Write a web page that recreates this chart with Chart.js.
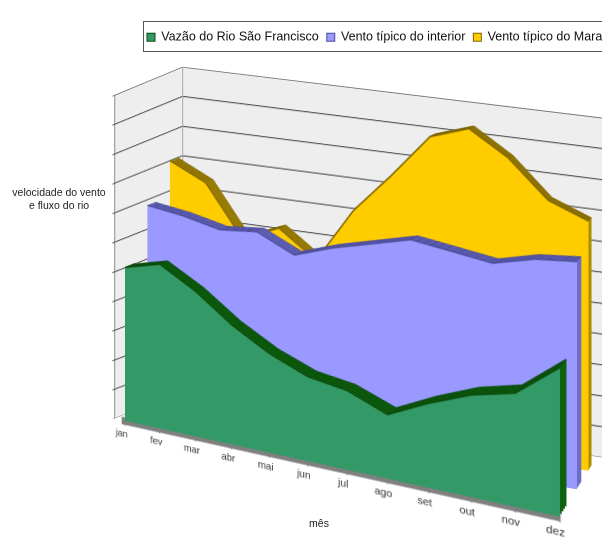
<!DOCTYPE html>
<html>
<head>
<meta charset="utf-8">
<script src="https://cdn.jsdelivr.net/npm/chart.js@4/dist/chart.umd.min.js"></script>
<style>
  html, body { margin: 0; padding: 0; background: #fff; width: 602px; height: 541px; overflow: hidden; }
  #stage { position: absolute; left: 0; top: 0; width: 602px; height: 541px; overflow: hidden; }
  #stage canvas { position: absolute; left: 0; top: 0; transform-origin: 0 0; }
  .txt { position: absolute; font-family: "Liberation Sans", Arial, sans-serif; color: #222; white-space: nowrap; }
  #legendFrame { position: absolute; left: 143px; top: 21px; width: 480px; height: 29px; border: 1px solid #555; background: #fff; }
</style>
</head>
<body>
<div id="stage"></div>
<div class="txt" style="left:4px; top:186px; width:110px; text-align:center; font-size:10.5px; line-height:13px;">velocidade do vento<br>e fluxo do rio</div>
<div class="txt" style="left:299px; top:517px; width:40px; text-align:center; font-size:10.5px;">mês</div>
<script>
// ---- data -------------------------------------------------------------
const months = ['jan', 'fev', 'mar', 'abr', 'mai', 'jun', 'jul', 'ago', 'set', 'out', 'nov', 'dez'];
const seriesNames = ['Vazão do Rio São Francisco', 'Vento típico do interior', 'Vento típico do Maranhão'];
const vazaoRio      = [5.2, 5.5, 4.8, 3.9, 3.2, 2.7, 2.5, 2.0, 2.6, 3.1, 3.4, 4.4];
const ventoInterior = [7.0, 6.8, 6.5, 6.6, 6.0, 6.4, 6.7, 7.0, 6.8, 6.6, 6.9, 7.0];
const ventoMaranhao = [8.2, 7.6, 5.9, 6.4, 5.5, 7.3, 8.6, 10.0, 10.4, 9.6, 8.4, 7.9];
const valueMax = 11;   // top of the value axis, one gridline per unit

// ---- look -------------------------------------------------------------
const FONT = '"Liberation Sans", Arial, sans-serif';
const faceColors   = ['#339966', '#9999ff', '#ffcc00'];
const topColors    = ['#0d610d', '#6d6dc8', '#ad8c05'];
const edgeColors   = ['#0a4a0a', '#4c4c9a', '#7d6500'];
const WALL_FILL = '#eeeeee';
const GRID = '#555555';

// ---- oblique box: page position of the plot box corners --------------
const LAST = months.length - 1;
const FRONT = { bl: [125, 421], tl: [125, 96],  br: [560, 517], tr: [560, 143] };
const BACK  = { bl: [193, 395], tl: [193, 68],  br: [597, 457], tr: [597, 117] };
const DEPTH_WEIGHT = { left: 1.0, right: 1.73 };   // perspective foreshortening of depth
const WALL_X0 = -0.3, WALL_X1 = 11.3;              // walls reach a bit past the first/last month
const SERIES_Z = [0, 0.33, 0.66];                  // depth row of each series
const SLAB = 0.11;                                 // thickness of each area slab

function solveH(src, dst) {
  const A = [], b = [];
  for (let i = 0; i < 4; i++) {
    const [x, y] = src[i], [u, v] = dst[i];
    A.push([x, y, 1, 0, 0, 0, -x * u, -y * u]); b.push(u);
    A.push([0, 0, 0, x, y, 1, -x * v, -y * v]); b.push(v);
  }
  const n = 8;
  for (let c = 0; c < n; c++) {
    let p = c;
    for (let r = c + 1; r < n; r++) if (Math.abs(A[r][c]) > Math.abs(A[p][c])) p = r;
    [A[c], A[p]] = [A[p], A[c]]; [b[c], b[p]] = [b[p], b[c]];
    for (let r = 0; r < n; r++) {
      if (r === c) continue;
      const f = A[r][c] / A[c][c];
      for (let k = c; k < n; k++) A[r][k] -= f * A[c][k];
      b[r] -= f * b[c];
    }
  }
  return b.map((v, i) => v / A[i][i]);
}
function applyH(h, x, y) {
  const w = h[6] * x + h[7] * y + 1;
  return [(h[0] * x + h[1] * y + h[2]) / w, (h[3] * x + h[4] * y + h[5]) / w];
}
function mix(a, b, s) { return [a[0] + (b[0] - a[0]) * s, a[1] + (b[1] - a[1]) * s]; }
function depthFrac(z, r) { return z * r / ((1 - z) + z * r); }

const planeCache = {};
function planeH(z) {
  if (planeCache[z]) return planeCache[z];
  const sl = depthFrac(z, DEPTH_WEIGHT.left), sr = depthFrac(z, DEPTH_WEIGHT.right);
  const src = [[0, 0], [0, valueMax], [LAST, 0], [LAST, valueMax]];
  const dst = [mix(FRONT.bl, BACK.bl, sl), mix(FRONT.tl, BACK.tl, sl),
               mix(FRONT.br, BACK.br, sr), mix(FRONT.tr, BACK.tr, sr)];
  return (planeCache[z] = solveH(src, dst));
}
function project(X, Y, z) { return applyH(planeH(z), X, Y); }

// map a chart's plot area onto the page through its own scales
function place(chart, toPage) {
  const a = chart.chartArea, xs = chart.scales.x, ys = chart.scales.y;
  const src = [[a.left, a.bottom], [a.left, a.top], [a.right, a.bottom], [a.right, a.top]];
  const dst = [toPage(xs.min, ys.min), toPage(xs.min, ys.max), toPage(xs.max, ys.min), toPage(xs.max, ys.max)];
  const h = solveH(src, dst);
  chart.canvas.style.transform =
    `matrix3d(${h[0]},${h[3]},0,${h[6]},${h[1]},${h[4]},0,${h[7]},0,0,1,0,${h[2]},${h[5]},0,1)`;
}

const stage = document.getElementById('stage');
function makeCanvas(w, h) {
  const c = document.createElement('canvas');
  c.width = w; c.height = h;
  c.style.width = w + 'px'; c.style.height = h + 'px';
  stage.appendChild(c);
  return c;
}

const wallFill = {
  id: 'wallFill',
  beforeDraw(chart, args, opts) {
    if (!opts.color) return;
    const { ctx, chartArea: a } = chart;
    ctx.save();
    ctx.fillStyle = opts.color;
    ctx.fillRect(a.left, a.top, a.right - a.left, a.bottom - a.top);
    ctx.restore();
  }
};

const baseOptions = {
  responsive: false,
  animation: false,
  devicePixelRatio: 2,
  events: [],
  layout: { padding: 0 },
  plugins: { legend: { display: false }, tooltip: { enabled: false } }
};

// ---- back wall --------------------------------------------------------
const backWall = new Chart(makeCanvas(520, 360), {
  type: 'line',
  data: { datasets: [] },
  plugins: [wallFill],
  options: {
    ...baseOptions,
    plugins: { ...baseOptions.plugins, wallFill: { color: WALL_FILL } },
    scales: {
      x: { type: 'linear', min: WALL_X0, max: WALL_X1, display: false },
      y: {
        type: 'linear', min: 0, max: valueMax,
        ticks: { display: false, stepSize: 1 },
        grid: { color: GRID, lineWidth: 1.2, drawTicks: false },
        border: { display: true, color: GRID, width: 1.2 }
      }
    }
  }
});
place(backWall, (X, Y) => project(X, Y, 1));

// ---- side wall (left) -------------------------------------------------
const sideWall = new Chart(makeCanvas(120, 360), {
  type: 'line',
  data: { datasets: [] },
  plugins: [wallFill],
  options: {
    ...baseOptions,
    plugins: { ...baseOptions.plugins, wallFill: { color: WALL_FILL } },
    scales: {
      x: {
        type: 'linear', min: 0, max: 1,
        ticks: { display: false, stepSize: 1 },
        grid: { color: GRID, lineWidth: 1.2, drawTicks: false },
        border: { display: false }
      },
      y: {
        type: 'linear', min: 0, max: valueMax,
        ticks: { display: false, stepSize: 1 },
        grid: { color: GRID, lineWidth: 1.2, drawTicks: true, tickLength: 4 },
        border: { display: true, color: GRID, width: 1.2 }
      }
    }
  }
});
place(sideWall, (d, Y) => project(WALL_X0, Y, d));

// ---- area slabs -------------------------------------------------------
function areaLayer(values, fill, edge, edgeWidth, z, withAxis) {
  const chart = new Chart(makeCanvas(470, withAxis ? 380 : 350), {
    type: 'line',
    data: {
      labels: months,
      datasets: [{
        data: values, fill: 'origin', backgroundColor: fill,
        borderColor: edge, borderWidth: edgeWidth, pointRadius: 0, tension: 0
      }]
    },
    options: {
      ...baseOptions,
      layout: { padding: { left: 12, right: 12, top: 8, bottom: withAxis ? 4 : 8 } },
      scales: {
        x: {
          type: 'category', offset: false, display: withAxis,
          grid: { display: true, drawOnChartArea: false, drawTicks: true, tickLength: 5, color: '#777' },
          border: { display: true, color: '#808080', width: 8 },
          ticks: { font: { family: FONT, size: 10.5 }, color: '#333', padding: 3,
                   maxRotation: 0, autoSkip: false, labelOffset: -4 }
        },
        y: { type: 'linear', min: 0, max: valueMax, display: false }
      }
    }
  });
  place(chart, (X, Y) => project(X, Y, z));
  return chart;
}

const allSeries = [vazaoRio, ventoInterior, ventoMaranhao];
// paint from the back row to the front row
for (let s = allSeries.length - 1; s >= 0; s--) {
  const z0 = SERIES_Z[s];
  for (let k = 4; k >= 1; k--) {
    areaLayer(allSeries[s], topColors[s], edgeColors[s], 1, z0 + SLAB * k / 4, false);
  }
  areaLayer(allSeries[s], faceColors[s], edgeColors[s], 1.5, z0, s === 0);
}
</script>

<div id="legendFrame"></div>
<canvas id="legend" width="560" height="40" style="position:absolute; left:139px; top:23px; width:560px; height:40px;"></canvas>
<script>
// ---- legend -----------------------------------------------------------
new Chart(document.getElementById('legend'), {
  type: 'line',
  data: {
    labels: months,
    datasets: [vazaoRio, ventoInterior, ventoMaranhao].map((vals, i) => ({
      label: seriesNames[i], data: vals, showLine: false, pointRadius: 0,
      backgroundColor: faceColors[i], borderColor: edgeColors[i], borderWidth: 1
    }))
  },
  options: {
    responsive: false, animation: false, devicePixelRatio: 2, events: [],
    layout: { padding: 0 },
    scales: { x: { display: false }, y: { display: false } },
    plugins: {
      tooltip: { enabled: false },
      legend: {
        display: true, position: 'top', align: 'start',
        labels: { font: { family: FONT, size: 12.5 }, color: '#111', boxWidth: 8, boxHeight: 8, padding: 8 }
      }
    }
  }
});
</script>
</body>
</html>
